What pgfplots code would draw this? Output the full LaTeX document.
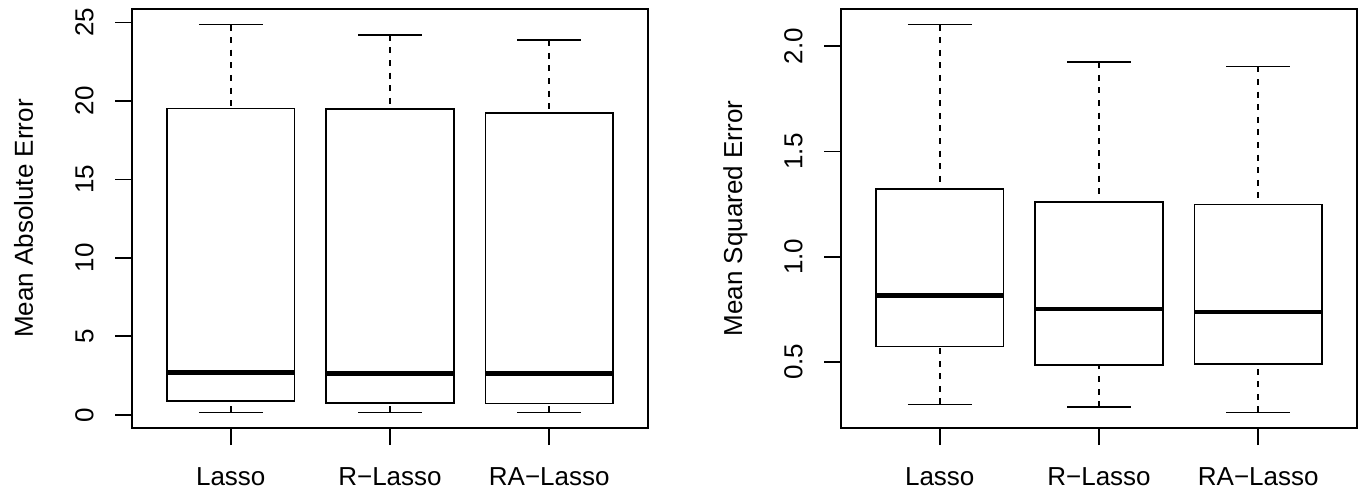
\documentclass[border=0pt]{standalone}
\usepackage{fontspec}
\setmainfont{Liberation Sans}
\usepackage{pgfplots}
\pgfplotsset{compat=1.18}
\usepgfplotslibrary{statistics}

\pgfplotsset{
  rbox/.style={
    scale only axis,
    width=258pt, height=209.5pt,
    xmin=0.38, xmax=3.62,
    xtick={1,2,3},
    xticklabels={Lasso, R−Lasso, RA−Lasso},
    xtick pos=bottom, ytick pos=left,
    tick align=outside,
    major tick length=8.5pt,
    tick style={black, line width=0.9pt},
    axis line style={line width=0.9pt},
    font=\fontsize{13}{16}\selectfont,
    /pgf/number format/assume math mode=true,
    xticklabel style={anchor=base, inner sep=0pt},
    yticklabel style={rotate=90, anchor=base, inner sep=0pt},
    xticklabel shift=20pt,
    yticklabel shift=10.8pt,
    every axis y label/.style={at={([xshift=-49.5pt]axis description cs:0,0.5)},
      rotate=90, anchor=base, inner sep=0pt},
    boxplot/draw direction=y,
    boxplot/every median/.style={line width=2.4pt},
    boxplot/box extend=0.8,
    boxplot/whisker extend=0.4,
  },
  boxplot/draw/lower whisker/.code={%
    \draw[dash pattern=on 3pt off 3.3pt]
      (boxplot box cs:\pgfplotsboxplotvalue{lower whisker},0.5) --
      (boxplot box cs:\pgfplotsboxplotvalue{lower quartile},0.5);
    \draw (boxplot whisker cs:\pgfplotsboxplotvalue{lower whisker},0) --
      (boxplot whisker cs:\pgfplotsboxplotvalue{lower whisker},1);
  },
  boxplot/draw/upper whisker/.code={%
    \draw[dash pattern=on 3pt off 3.3pt]
      (boxplot box cs:\pgfplotsboxplotvalue{upper whisker},0.5) --
      (boxplot box cs:\pgfplotsboxplotvalue{upper quartile},0.5);
    \draw (boxplot whisker cs:\pgfplotsboxplotvalue{upper whisker},0) --
      (boxplot whisker cs:\pgfplotsboxplotvalue{upper whisker},1);
  },
}

\begin{document}
\begin{tikzpicture}
\useasboundingbox (0,0) rectangle (681.5pt,249pt);

% left: mean absolute error
\begin{axis}[rbox,
  at={(66pt,35pt)}, anchor=south west,
  ymin=-0.84, ymax=25.86,
  ytick={0,5,10,15,20,25},
  ylabel={Mean Absolute Error},
]
\addplot[black, line width=0.9pt, boxplot prepared={draw position=1,
  lower whisker=0.15, lower quartile=0.89, median=2.70,
  upper quartile=19.52, upper whisker=24.87}] coordinates {};
\addplot[black, line width=0.9pt, boxplot prepared={draw position=2,
  lower whisker=0.15, lower quartile=0.74, median=2.65,
  upper quartile=19.50, upper whisker=24.21}] coordinates {};
\addplot[black, line width=0.9pt, boxplot prepared={draw position=3,
  lower whisker=0.15, lower quartile=0.72, median=2.63,
  upper quartile=19.21, upper whisker=23.87}] coordinates {};
\end{axis}

% right: mean squared error
\begin{axis}[rbox,
  at={(420.5pt,35pt)}, anchor=south west,
  ymin=0.186, ymax=2.177,
  ytick={0.5,1.0,1.5,2.0},
  yticklabel style={/pgf/number format/.cd, fixed, fixed zerofill, precision=1},
  ylabel={Mean Squared Error},
]
\addplot[black, line width=0.9pt, boxplot prepared={draw position=1,
  lower whisker=0.298, lower quartile=0.573, median=0.816,
  upper quartile=1.323, upper whisker=2.103}] coordinates {};
\addplot[black, line width=0.9pt, boxplot prepared={draw position=2,
  lower whisker=0.285, lower quartile=0.484, median=0.751,
  upper quartile=1.258, upper whisker=1.924}] coordinates {};
\addplot[black, line width=0.9pt, boxplot prepared={draw position=3,
  lower whisker=0.260, lower quartile=0.492, median=0.737,
  upper quartile=1.248, upper whisker=1.904}] coordinates {};
\end{axis}
\end{tikzpicture}
\end{document}
